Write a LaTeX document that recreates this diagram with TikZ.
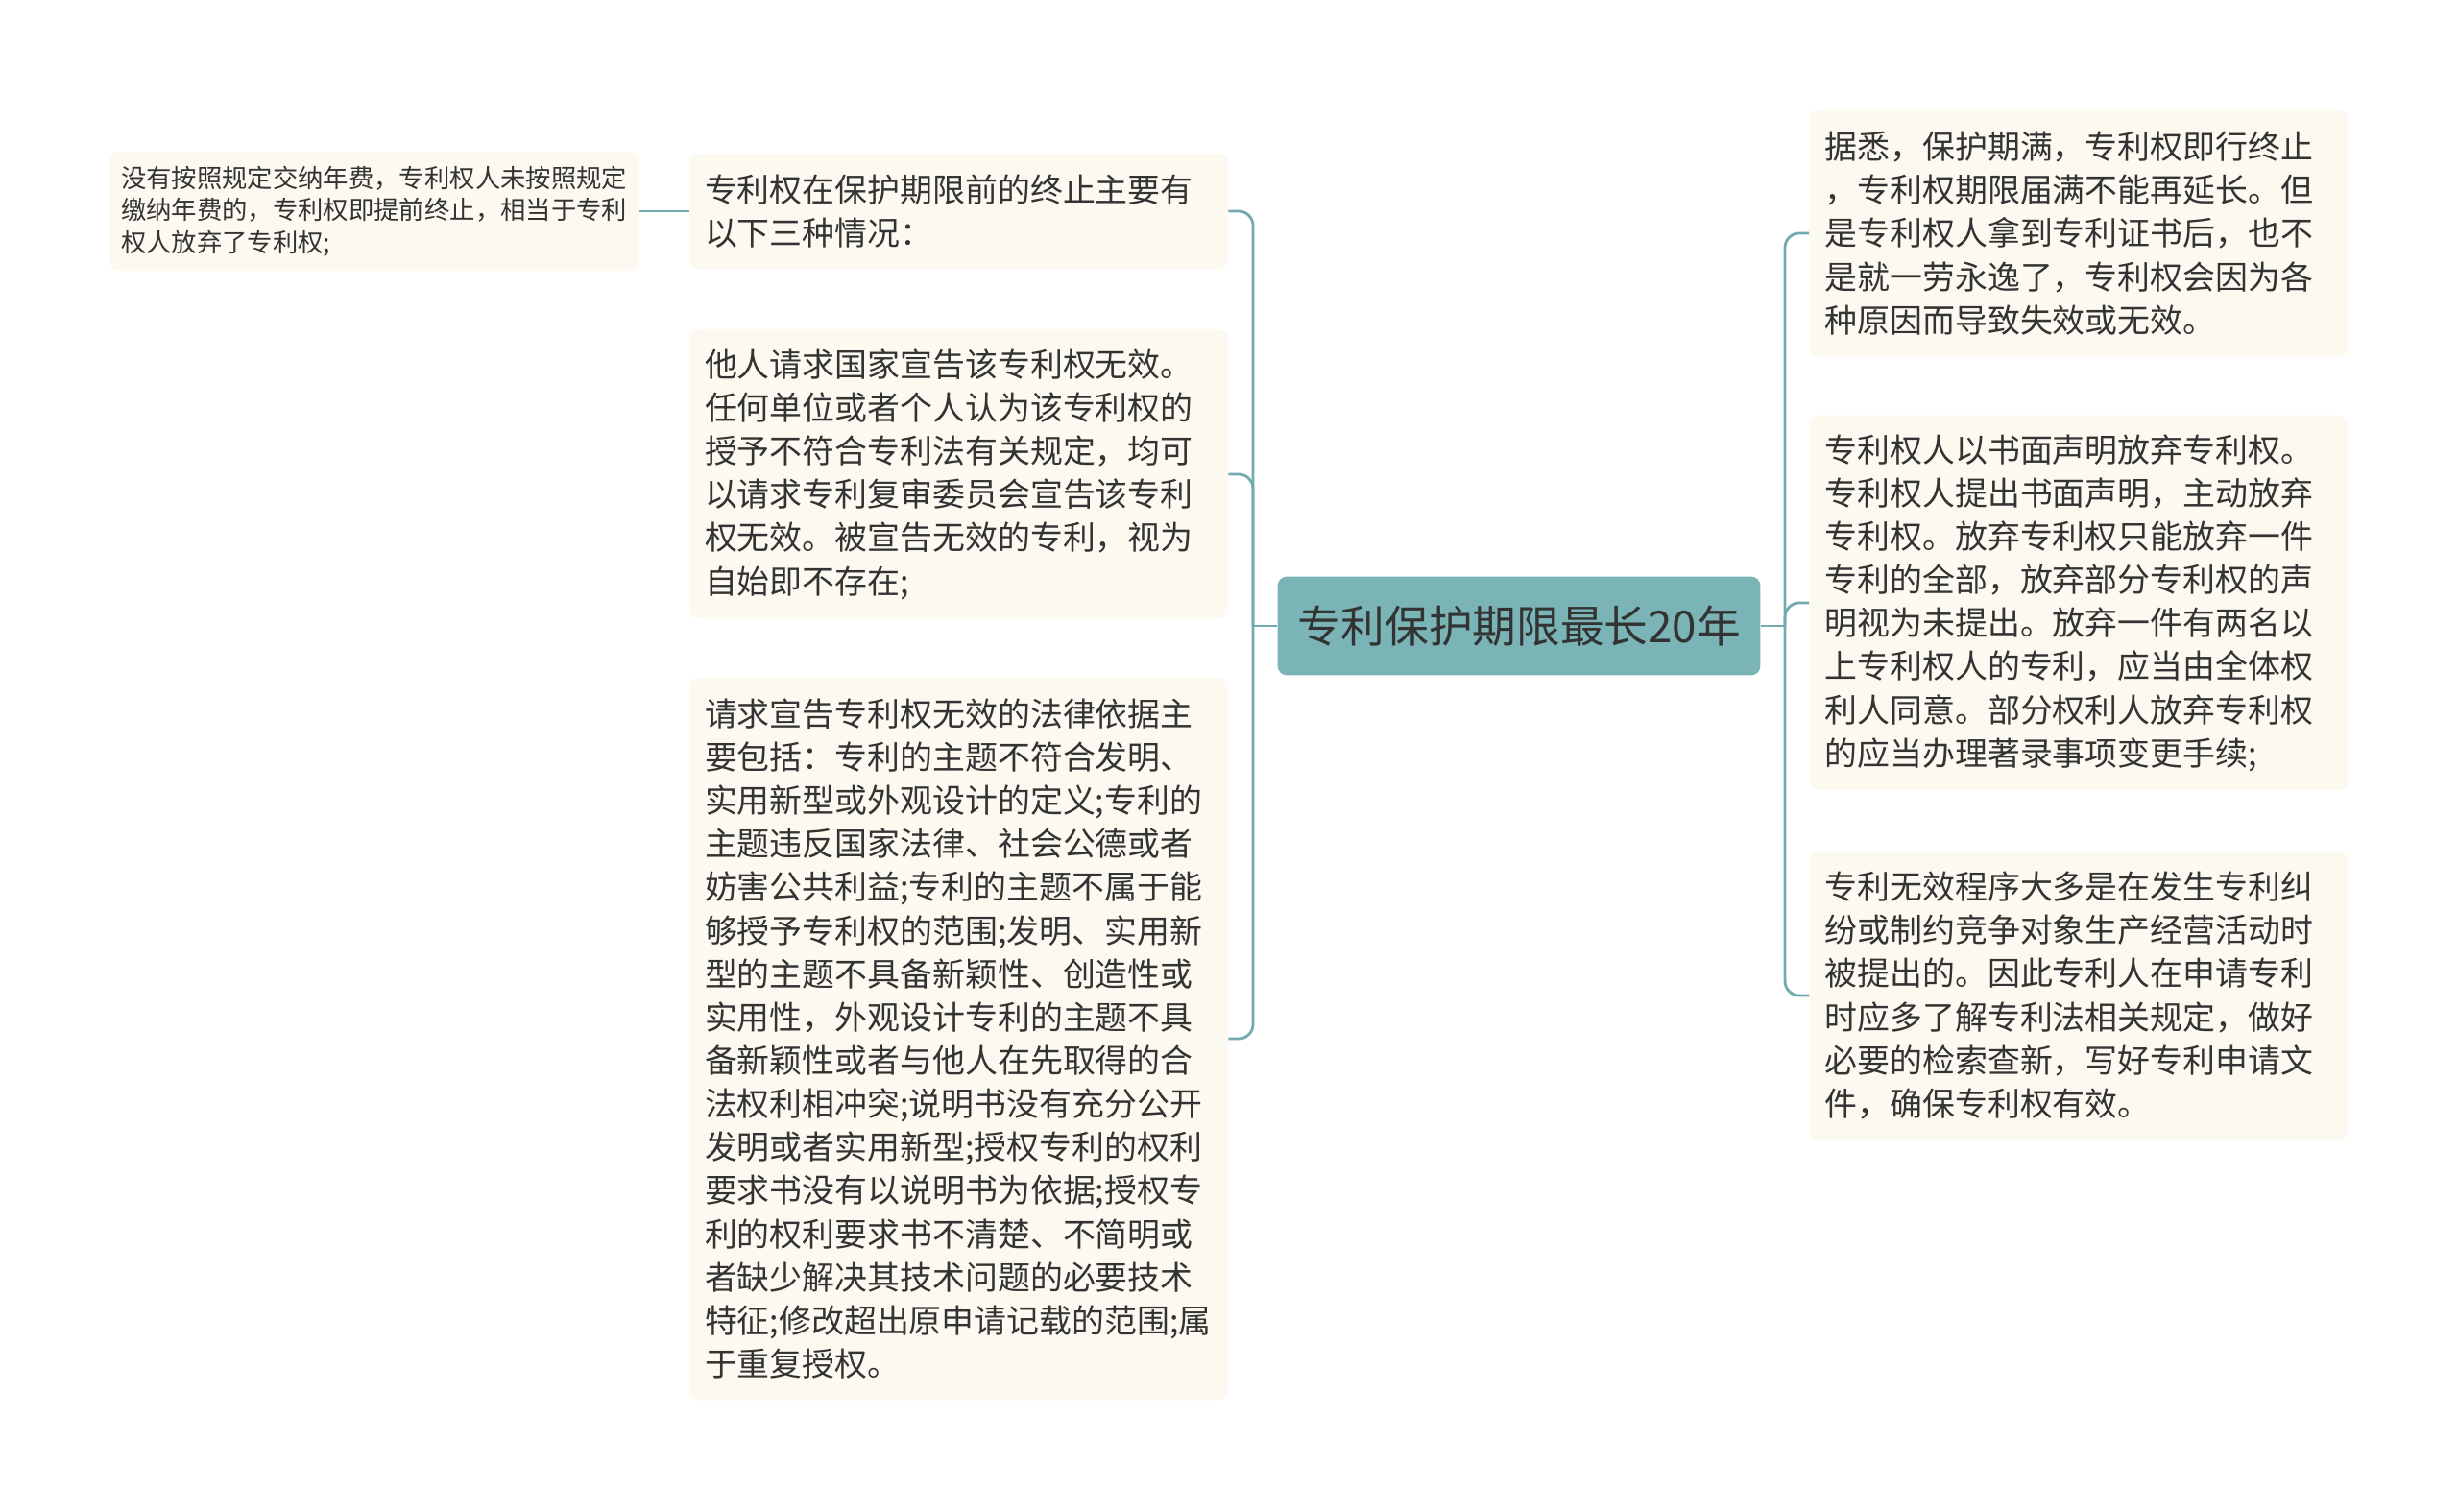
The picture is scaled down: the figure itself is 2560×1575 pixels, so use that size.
\documentclass[tikz,border=0pt]{standalone}
\usepackage{fontspec}
\setmainfont{Noto Sans CJK SC}
\definecolor{linkcol}{HTML}{72AAB0}
\definecolor{rootcol}{HTML}{7AB4B6}
\definecolor{leafcol}{HTML}{FCF9F0}
\definecolor{inkcol}{HTML}{333333}
\newcommand{\linkwidth}{1.6pt}
\newcommand{\bend}{0.3cm}

\tikzset{
  leaf/.style={fill=leafcol, rounded corners=0.2cm, align=left, text=inkcol,
    inner xsep=0.32cm, text width=10.58cm, font=\fontsize{19.3}{25.7}\selectfont},
  smallleaf/.style={leaf, inner xsep=0.24cm, text width=10.56cm,
    font=\fontsize{15}{19}\selectfont},
  root/.style={fill=rootcol, rounded corners=0.2cm, text=inkcol,
    minimum width=10.06cm, minimum height=2.06cm, font=\fontsize{26}{30}\selectfont},
  link/.style={draw=linkcol, line width=\linkwidth, rounded corners=\bend},
}

\begin{document}
\begin{tikzpicture}[x=0.02cm, y=-0.02cm]
\fill[white] (0,0) rectangle (2560,1575);
\useasboundingbox (0,0) rectangle (2560,1575);
% centre
\node[root] (root) at (1582,652) {专利保护期限最长20年};
% left branch
\node[leaf, minimum height=2.42cm] (b1) at (998.5,220) {专利权在保护期限前的终止主要有\\以下三种情况：};
\node[leaf, minimum height=6.04cm] (b2) at (998.5,494) {他人请求国家宣告该专利权无效。\\任何单位或者个人认为该专利权的\\授予不符合专利法有关规定，均可\\以请求专利复审委员会宣告该专利\\权无效。被宣告无效的专利，视为\\自始即不存在;};
\node[leaf, minimum height=15.06cm] (b3) at (998.5,1082) {请求宣告专利权无效的法律依据主\\要包括：专利的主题不符合发明、\\实用新型或外观设计的定义;专利的\\主题违反国家法律、社会公德或者\\妨害公共利益;专利的主题不属于能\\够授予专利权的范围;发明、实用新\\型的主题不具备新颖性、创造性或\\实用性，外观设计专利的主题不具\\备新颖性或者与他人在先取得的合\\法权利相冲突;说明书没有充分公开\\发明或者实用新型;授权专利的权利\\要求书没有以说明书为依据;授权专\\利的权利要求书不清楚、不简明或\\者缺少解决其技术问题的必要技术\\特征;修改超出原申请记载的范围;属\\于重复授权。};
\node[smallleaf, minimum height=2.48cm] (a) at (390,220) {没有按照规定交纳年费，专利权人未按照规定\\缴纳年费的，专利权即提前终止，相当于专利\\权人放弃了专利权;};
% right branch
\node[leaf, minimum height=5.16cm] (r1) at (2165,243) {据悉，保护期满，专利权即行终止\\，专利权期限届满不能再延长。但\\是专利权人拿到专利证书后，也不\\是就一劳永逸了，专利权会因为各\\种原因而导致失效或无效。};
\node[leaf, minimum height=7.82cm] (r2) at (2165,628) {专利权人以书面声明放弃专利权。\\专利权人提出书面声明，主动放弃\\专利权。放弃专利权只能放弃一件\\专利的全部，放弃部分专利权的声\\明视为未提出。放弃一件有两名以\\上专利权人的专利，应当由全体权\\利人同意。部分权利人放弃专利权\\的应当办理著录事项变更手续;};
\node[leaf, minimum height=6.0cm] (r3) at (2165,1037) {专利无效程序大多是在发生专利纠\\纷或制约竞争对象生产经营活动时\\被提出的。因此专利人在申请专利\\时应多了解专利法相关规定，做好\\必要的检索查新，写好专利申请文\\件，确保专利权有效。};
% links
\coordinate (lj) at (1305,652);
\coordinate (rj) at (1859,652);
\draw[link] (root.west) -- (lj);
\draw[link] (lj) |- (b1.east);
\draw[link] (lj) |- (b2.east);
\draw[link] (lj) |- (b3.east);
\draw[link] (b1.west) -- (a.east);
\draw[link] (root.east) -- (rj);
\draw[link] (rj) |- (r1.west);
\draw[link] (rj) |- (r2.west);
\draw[link] (rj) |- (r3.west);
\end{tikzpicture}
\end{document}
